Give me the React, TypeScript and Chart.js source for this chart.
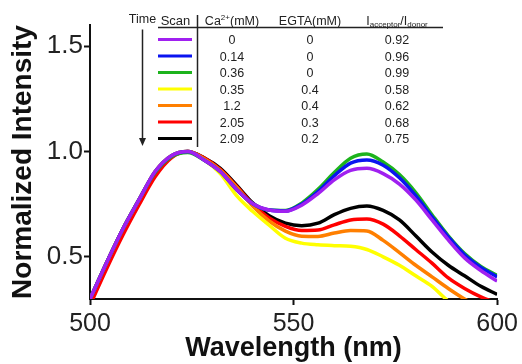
import React, { useEffect, useRef } from "react";
import { Chart, registerables } from "chart.js";

Chart.register(...registerables);

const wavelengths = [500, 504, 508, 512, 516, 520, 524, 528, 532, 536, 540, 544, 548, 552, 556, 560, 564, 568, 572, 576, 580, 584, 588, 592, 596, 600];

const purple = [0.30, 0.47, 0.63, 0.77, 0.905, 0.98, 1.0, 0.96, 0.905, 0.82, 0.752, 0.722, 0.716, 0.745, 0.80, 0.865, 0.91, 0.92, 0.895, 0.845, 0.77, 0.675, 0.58, 0.495, 0.435, 0.385];
const blue = [0.30, 0.47, 0.63, 0.77, 0.905, 0.98, 1.0, 0.96, 0.905, 0.82, 0.752, 0.722, 0.718, 0.75, 0.81, 0.885, 0.945, 0.96, 0.935, 0.875, 0.79, 0.69, 0.595, 0.51, 0.45, 0.405];
const green = [0.30, 0.47, 0.63, 0.77, 0.90, 0.975, 0.995, 0.96, 0.905, 0.82, 0.752, 0.722, 0.72, 0.755, 0.82, 0.90, 0.968, 0.988, 0.95, 0.89, 0.805, 0.70, 0.60, 0.516, 0.455, 0.412];
const yellow = [0.30, 0.47, 0.63, 0.77, 0.905, 0.98, 1.0, 0.96, 0.895, 0.79, 0.715, 0.65, 0.588, 0.565, 0.557, 0.553, 0.55, 0.535, 0.50, 0.46, 0.41, 0.36, 0.29, 0.24, 0.19, 0.14];
const orange = [0.30, 0.47, 0.63, 0.77, 0.905, 0.98, 1.0, 0.965, 0.91, 0.83, 0.74, 0.67, 0.622, 0.598, 0.597, 0.613, 0.625, 0.623, 0.578, 0.52, 0.46, 0.405, 0.35, 0.30, 0.26, 0.22];
const red = [0.27, 0.44, 0.60, 0.745, 0.88, 0.97, 1.0, 0.97, 0.915, 0.835, 0.75, 0.685, 0.645, 0.625, 0.627, 0.652, 0.675, 0.68, 0.655, 0.60, 0.535, 0.47, 0.40, 0.35, 0.31, 0.28];
const black = [0.29, 0.46, 0.62, 0.765, 0.90, 0.975, 1.0, 0.97, 0.92, 0.84, 0.755, 0.695, 0.66, 0.648, 0.66, 0.70, 0.73, 0.741, 0.72, 0.675, 0.60, 0.523, 0.46, 0.41, 0.36, 0.322];

const seriesColors = ["#a020f0", "#0a14f0", "#1db31d", "#ffff00", "#ff7f00", "#ff0000", "#000000"];
const seriesValues = [purple, blue, green, yellow, orange, red, black];

const caValues = ["0", "0.14", "0.36", "0.35", "1.2", "2.05", "2.09"];
const egtaValues = ["0", "0", "0", "0.4", "0.4", "0.3", "0.2"];
const ratioValues = ["0.92", "0.96", "0.99", "0.58", "0.62", "0.68", "0.75"];

const xTicks = [500, 550, 600];
const yTicks = [0.5, 1.0, 1.5];

const FONT = '"Liberation Sans", Arial, Helvetica, sans-serif';

const tablePlugin = {
  id: "scanTable",
  afterDraw(chart: any) {
    const ctx = chart.ctx as CanvasRenderingContext2D;
    ctx.save();
    const f = (s: number) => `normal ${s}px ${FONT}`;
    const txt = "#222";
    ctx.fillStyle = txt;
    ctx.strokeStyle = txt;
    ctx.textBaseline = "alphabetic";

    // Header
    ctx.font = f(12.5);
    ctx.textAlign = "center";
    ctx.fillText("Time", 142.5, 23);
    ctx.font = f(13);
    ctx.fillText("Scan", 175.5, 25);
    ctx.font = f(12.5);
    ctx.fillText("EGTA(mM)", 310, 25);

    const drawRich = (parts: { t: string; s: number; dy: number }[], cx: number, base: number) => {
      let total = 0;
      for (const p of parts) {
        ctx.font = f(p.s);
        total += ctx.measureText(p.t).width;
      }
      let x = cx - total / 2;
      ctx.textAlign = "left";
      for (const p of parts) {
        ctx.font = f(p.s);
        ctx.fillText(p.t, x, base + p.dy);
        x += ctx.measureText(p.t).width;
      }
      ctx.textAlign = "center";
    };
    drawRich(
      [
        { t: "Ca", s: 12.5, dy: 0 },
        { t: "2+", s: 8, dy: -5 },
        { t: "(mM)", s: 12.5, dy: 0 },
      ],
      232,
      25
    );
    drawRich(
      [
        { t: "I", s: 12.5, dy: 0 },
        { t: "acceptor", s: 8, dy: 2 },
        { t: "/I", s: 12.5, dy: 0 },
        { t: "donor", s: 8, dy: 2 },
      ],
      397,
      25
    );

    // Rules
    ctx.lineWidth = 1.5;
    ctx.beginPath();
    ctx.moveTo(158, 27.5);
    ctx.lineTo(443, 27.5);
    ctx.stroke();
    ctx.beginPath();
    ctx.moveTo(197.5, 15);
    ctx.lineTo(197.5, 147);
    ctx.stroke();

    // Time arrow
    ctx.beginPath();
    ctx.moveTo(142.5, 29.5);
    ctx.lineTo(142.5, 140);
    ctx.stroke();
    ctx.beginPath();
    ctx.moveTo(139, 138);
    ctx.lineTo(146, 138);
    ctx.lineTo(142.5, 146);
    ctx.closePath();
    ctx.fill();

    // Rows
    ctx.font = f(12.5);
    ctx.textAlign = "center";
    for (let i = 0; i < caValues.length; i++) {
      const cy = 39.5 + i * 16.5;
      ctx.strokeStyle = chart.data.datasets[i].borderColor;
      ctx.lineWidth = 3;
      ctx.beginPath();
      ctx.moveTo(158, cy);
      ctx.lineTo(192, cy);
      ctx.stroke();
      ctx.fillStyle = txt;
      ctx.fillText(caValues[i], 232, cy + 4.5);
      ctx.fillText(egtaValues[i], 310, cy + 4.5);
      ctx.fillText(ratioValues[i], 397, cy + 4.5);
    }
    ctx.restore();
  },
};

export default function App() {
  const ref = useRef<HTMLCanvasElement | null>(null);
  useEffect(() => {
    document.body.style.margin = "0";
    const datasets = seriesValues.map((vals, i) => ({
      label: "Scan " + (i + 1),
      data: wavelengths.map((w, j) => ({ x: w, y: vals[j] })),
      borderColor: seriesColors[i],
      backgroundColor: seriesColors[i],
      borderWidth: 3.5,
      pointRadius: 0,
      cubicInterpolationMode: "monotone" as const,
      fill: false,
    }));
    const chart = new Chart(ref.current as HTMLCanvasElement, {
      type: "line",
      data: { datasets },
      plugins: [tablePlugin],
      options: {
        animation: false,
        responsive: true,
        maintainAspectRatio: false,
        layout: { padding: { top: 25, right: 24, left: 0, bottom: 0 } },
        plugins: { legend: { display: false }, tooltip: { enabled: false } },
        scales: {
          x: {
            type: "linear",
            min: 500,
            max: 600,
            afterBuildTicks: (axis: any) => {
              axis.ticks = xTicks.map((v) => ({ value: v }));
            },
            afterFit: (scale: any) => {
              scale.height = 65;
            },
            grid: { display: true, drawOnChartArea: false, drawTicks: true, tickLength: 6, tickWidth: 2, tickColor: "#111" },
            border: { display: true, color: "#111", width: 2 },
            ticks: { font: { family: FONT, size: 25 }, color: "#222", padding: 4, maxRotation: 0 },
            title: {
              display: true,
              text: "Wavelength (nm)",
              font: { family: FONT, size: 27, weight: "bold" },
              color: "#111",
              padding: { top: 0, bottom: -1 },
            },
          },
          y: {
            type: "linear",
            min: 0.3,
            max: 1.6,
            afterBuildTicks: (axis: any) => {
              axis.ticks = yTicks.map((v) => ({ value: v }));
            },
            afterFit: (scale: any) => {
              scale.width = 90;
            },
            grid: { display: true, drawOnChartArea: false, drawTicks: true, tickLength: 6, tickWidth: 2, tickColor: "#111" },
            border: { display: true, color: "#111", width: 2 },
            ticks: {
              font: { family: FONT, size: 26 },
              color: "#222",
              padding: 1,
              callback: (v: any) => Number(v).toFixed(1),
            },
            title: {
              display: true,
              text: "Normalized Intensity",
              font: { family: FONT, size: 28, weight: "bold" },
              color: "#111",
              padding: { top: 6, bottom: 0 },
            },
          },
        },
      },
    });
    return () => chart.destroy();
  }, []);
  return (
    <div style={{ position: "absolute", left: 0, top: 0, width: 522, height: 364 }}>
      <canvas ref={ref} />
    </div>
  );
}
